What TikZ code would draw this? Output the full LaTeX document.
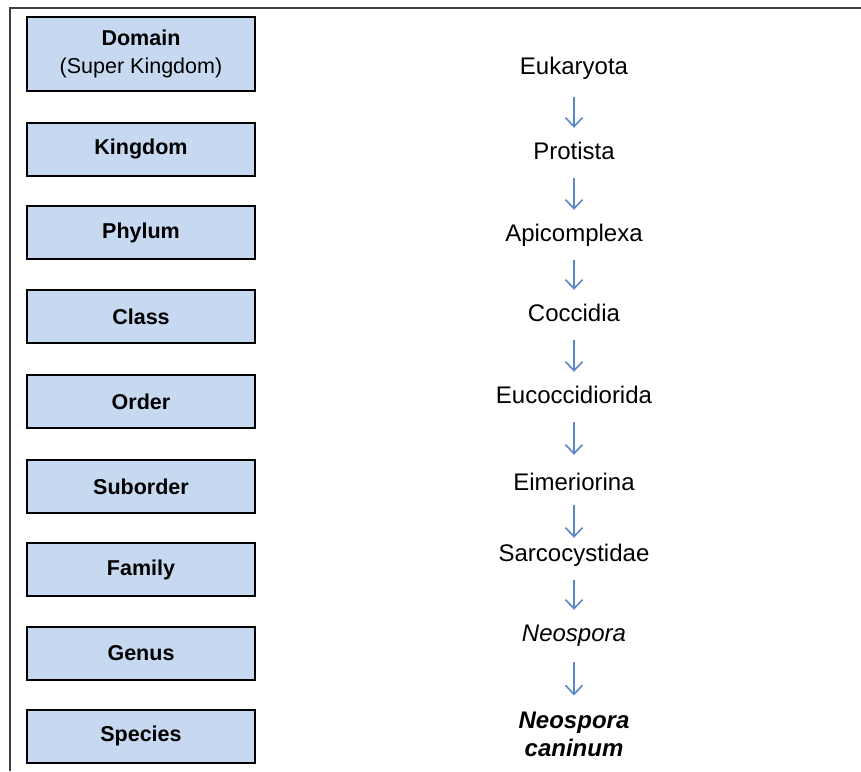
\documentclass[tikz,border=0pt]{standalone}
\usepackage{fontspec}
\setmainfont{Liberation Sans}
\usetikzlibrary{arrows.meta}
\definecolor{boxblue}{HTML}{C6D9F1}
\definecolor{arrowblue}{HTML}{5B87C5}
\tikzstyle{rankbox} = [draw=black,line width=2pt,fill=boxblue,minimum width=228pt,minimum height=53pt,
  font=\fontsize{21.5}{26}\selectfont\bfseries,align=center]
\tikzstyle{taxon} = [font=\fontsize{24}{28}\selectfont,inner sep=0pt,text height=17pt,text depth=5pt]
\tikzstyle{down} = [draw=arrowblue,line width=1.6pt,-{Straight Barb[length=9pt,width=17pt]},shorten <=14pt,shorten >=14pt]

\begin{document}
\begin{tikzpicture}[x=1pt,y=-1pt]
  \useasboundingbox (0,0) rectangle (861,771);
  \draw[line width=2pt,black!75] (10,771) -- (10,8) -- (861,8);
  % ranks
  \node[rankbox,minimum height=74pt] (domain) at (141,54) {Domain\\[2pt]{\mdseries (Super Kingdom)}};
  \node[rankbox] (kingdom)  at (141,149) {Kingdom};
  \node[rankbox] (phylum)   at (141,232.5) {Phylum};
  \node[rankbox] (class)    at (141,316.5) {Class};
  \node[rankbox] (order)    at (141,401.5) {Order};
  \node[rankbox] (suborder) at (141,486.5) {Suborder};
  \node[rankbox] (family)   at (141,569.5) {Family};
  \node[rankbox] (genus)    at (141,653.5) {Genus};
  \node[rankbox] (species)  at (141,736) {Species};
  % taxa
  \node[taxon] (eukaryota)   at (574,68)  {Eukaryota};
  \node[taxon] (protista)    at (574,153) {Protista};
  \node[taxon] (apicomplexa) at (574,235) {Apicomplexa};
  \node[taxon] (coccidia)    at (574,315) {Coccidia};
  \node[taxon] (eucocc)      at (574,397) {Eucoccidiorida};
  \node[taxon] (eimeriorina) at (574,484) {Eimeriorina};
  \node[taxon] (sarco)       at (574,555) {Sarcocystidae};
  \node[taxon] (neospora)    at (574,635) {\itshape Neospora};
  \node[font=\fontsize{24}{28}\selectfont\bfseries\itshape,align=center,inner sep=0pt] (caninum) at (574,734) {Neospora\\caninum};
  % arrows
  \draw[down,shorten <=18pt] (eukaryota) -- (protista);
  \draw[down] (protista) -- (apicomplexa);
  \draw[down] (apicomplexa) -- (coccidia);
  \draw[down] (coccidia) -- (eucocc);
  \draw[down,shorten >=18pt] (eucocc) -- (eimeriorina);
  \draw[down,shorten <=10pt,shorten >=6pt] (eimeriorina) -- (sarco);
  \draw[down] (sarco) -- (neospora);
  \draw[down,shorten <=16pt,shorten >=16pt] (neospora) -- (caninum);
\end{tikzpicture}
\end{document}
